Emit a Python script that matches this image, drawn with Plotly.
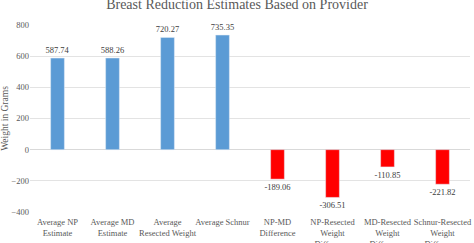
import plotly.graph_objects as go

categories = ["Average NP<br>Estimate", "Average MD<br>Estimate", "Average<br>Resected Weight", "Average Schnur",
              "NP-MD<br>Difference", "NP-Resected<br>Weight<br>Difference", "MD-Resected<br>Weight<br>Difference",
              "Schnur-Resected<br>Weight<br>Difference"]
values = [587.74, 588.26, 720.27, 735.35, -189.06, -306.51, -110.85, -221.82]
colors = ["#5B9BD5" if v >= 0 else "#FF0000" for v in values]
labels = [f"{v:.2f}" for v in values]
tickvals = [-400, -200, 0, 200, 400, 600, 800]

font = "Liberation Serif, Times New Roman, serif"

fig = go.Figure(go.Bar(
    x=categories, y=values, marker_color=colors, width=0.25,
    text=labels, textposition="outside", cliponaxis=False, constraintext="none",
    textfont=dict(family=font, size=8.5, color="#404040"),
))
fig.update_layout(
    width=474, height=243,
    margin=dict(l=30, r=4, t=25, b=31),
    paper_bgcolor="white", plot_bgcolor="white",
    showlegend=False,
    title=dict(text="Breast Reduction Estimates Based on Provider", x=0.5, xanchor="center",
               y=0.983, yanchor="middle", font=dict(family=font, size=14, color="#595959")),
    font=dict(family=font, size=8.5, color="#595959"),
    uniformtext=dict(mode=False),
)
fig.update_xaxes(tickfont=dict(family=font, size=8.5, color="#595959"), showgrid=False,
                 showline=False, automargin=False, ticks="", tickangle=0, ticklabelstandoff=3)
fig.update_yaxes(range=[-400, 800], tickvals=tickvals, showgrid=True, gridcolor="#E3E3E3",
                 zeroline=True, zerolinecolor="#D9D9D9", zerolinewidth=1,
                 tickfont=dict(family=font, size=8.5, color="#595959"), automargin=False,
                 title=dict(text="Weight in Grams", font=dict(family=font, size=9.5, color="#595959"), standoff=8))
fig.write_html("out.html")
